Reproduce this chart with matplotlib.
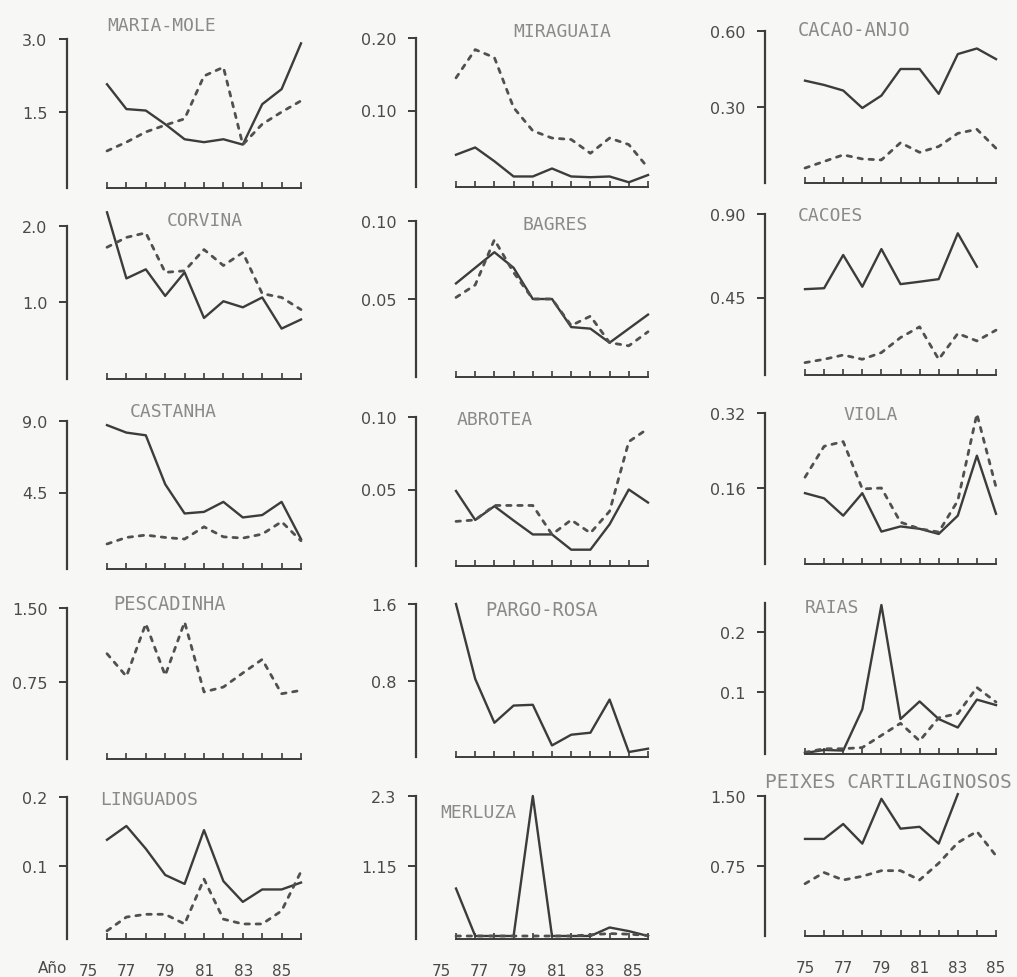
import numpy as np
import matplotlib
matplotlib.use("Agg")
import matplotlib.pyplot as plt
from matplotlib.transforms import ScaledTranslation

nan = np.nan

# ---- data: annual indices 1975-1985, solid and dotted series per species ----
years = [75, 76, 77, 78, 79, 80, 81, 82, 83, 84, 85]
year_labels = ["75", "", "77", "", "79", "", "81", "", "83", "", "85"]

maria_mole_solid = [2.07, 1.56, 1.53, 1.25, 0.94, 0.88, 0.94, 0.83, 1.66, 1.97, 2.91]
maria_mole_dotted = [0.70, 0.88, 1.09, 1.23, 1.36, 2.24, 2.42, 0.83, 1.25, 1.50, 1.73]

miraguaia_solid = [0.039, 0.049, 0.030, 0.009, 0.009, 0.020, 0.009, 0.008, 0.009, 0.001, 0.011]
miraguaia_dotted = [0.145, 0.184, 0.173, 0.104, 0.072, 0.062, 0.060, 0.041, 0.062, 0.053, 0.021]

cacao_anjo_solid = [0.404, 0.387, 0.365, 0.296, 0.345, 0.450, 0.450, 0.352, 0.509, 0.531, 0.489]
cacao_anjo_dotted = [0.059, 0.085, 0.111, 0.095, 0.091, 0.159, 0.121, 0.144, 0.196, 0.212, 0.137]

corvina_solid = [2.18, 1.31, 1.43, 1.08, 1.39, 0.79, 1.01, 0.93, 1.06, 0.65, 0.77]
corvina_dotted = [1.72, 1.85, 1.91, 1.39, 1.41, 1.69, 1.48, 1.65, 1.11, 1.06, 0.90]

bagres_solid = [0.060, 0.070, 0.080, 0.070, 0.050, 0.050, 0.032, 0.031, 0.022, 0.031, 0.040]
bagres_dotted = [0.051, 0.059, 0.088, 0.067, 0.050, 0.050, 0.033, 0.039, 0.022, 0.020, 0.029]

cacoes_solid = [0.495, 0.500, 0.679, 0.508, 0.711, 0.522, 0.535, 0.549, 0.796, 0.616, nan]
cacoes_dotted = [0.099, 0.117, 0.140, 0.117, 0.153, 0.234, 0.292, 0.117, 0.256, 0.216, 0.274]

castanha_solid = [8.74, 8.27, 8.10, 5.02, 3.18, 3.28, 3.91, 2.93, 3.08, 3.91, 1.57]
castanha_dotted = [1.26, 1.67, 1.82, 1.67, 1.57, 2.34, 1.71, 1.63, 1.88, 2.66, 1.46]

abrotea_solid = [0.049, 0.029, 0.0385, 0.0286, 0.019, 0.019, 0.0085, 0.0085, 0.026, 0.050, 0.041]
abrotea_dotted = [0.028, 0.029, 0.039, 0.039, 0.039, 0.019, 0.029, 0.020, 0.035, 0.083, 0.092]

viola_solid = [0.149, 0.138, 0.101, 0.149, 0.067, 0.078, 0.073, 0.062, 0.101, 0.229, 0.105]
viola_dotted = [0.183, 0.249, 0.259, 0.158, 0.160, 0.087, 0.073, 0.066, 0.133, 0.318, 0.162]

pescadinha_solid = [nan] * 11
pescadinha_dotted = [1.037, 0.807, 1.341, 0.817, 1.358, 0.649, 0.699, 0.841, 0.979, 0.631, 0.665]

pargo_rosa_solid = [1.60, 0.817, 0.358, 0.538, 0.546, 0.121, 0.233, 0.254, 0.601, 0.052, 0.087]
pargo_rosa_dotted = [nan] * 11

raias_solid = [0.000, 0.005, 0.004, 0.072, 0.244, 0.056, 0.085, 0.056, 0.042, 0.088, 0.079]
raias_dotted = [0.001, 0.007, 0.007, 0.009, 0.029, 0.049, 0.020, 0.058, 0.065, 0.108, 0.084]

linguados_solid = [0.138, 0.158, 0.125, 0.087, 0.074, 0.152, 0.078, 0.048, 0.066, 0.066, 0.076]
linguados_dotted = [0.006, 0.026, 0.030, 0.030, 0.016, 0.081, 0.023, 0.016, 0.016, 0.035, 0.092]

merluza_solid = [0.78, 0.00, 0.00, 0.00, 2.30, 0.00, 0.00, 0.00, 0.14, 0.08, 0.00]
merluza_dotted = [0.00, 0.00, 0.00, 0.00, 0.00, 0.00, 0.00, 0.02, 0.04, 0.03, 0.01]

cartilaginosos_solid = [1.04, 1.04, 1.20, 0.99, 1.47, 1.15, 1.17, 0.99, 1.52, nan, nan]
cartilaginosos_dotted = [0.56, 0.68, 0.60, 0.64, 0.70, 0.70, 0.60, 0.78, 1.00, 1.12, 0.86]

# ---- figure ----
W, H = 1017, 978
fig = plt.figure(figsize=(W / 100, H / 100), dpi=100, facecolor="#f7f7f5")

LINE = "#3c3c3c"
DOT = "#505050"
TXT = "#4a4a4a"
TITLE = "#8a8a8a"

col_spine = [67, 416, 765]
col_end = [301, 648, 996]

# name, solid, dotted, ticks, tick labels, top value, column, (top px, zero px, bottom px), title (x px, y px, size)
panels = [
    ("MARIA-MOLE", maria_mole_solid, maria_mole_dotted, [1.5, 3.0], ["1.5", "3.0"], 3.0, 0, (40, 186, 189), (107, 26, 13)),
    ("MIRAGUAIA", miraguaia_solid, miraguaia_dotted, [0.10, 0.20], ["0.10", "0.20"], 0.20, 1, (39, 184, 188), (513, 32, 13)),
    ("CACAO-ANJO", cacao_anjo_solid, cacao_anjo_dotted, [0.30, 0.60], ["0.30", "0.60"], 0.60, 2, (32, 184, 184), (798, 31, 13.5)),
    ("CORVINA", corvina_solid, corvina_dotted, [1.0, 2.0], ["1.0", "2.0"], 2.0, 0, (227, 379, 380), (167, 221, 13)),
    ("BAGRES", bagres_solid, bagres_dotted, [0.05, 0.10], ["0.05", "0.10"], 0.10, 1, (222, 378, 378), (523, 225, 13)),
    ("CACOES", cacoes_solid, cacoes_dotted, [0.45, 0.90], ["0.45", "0.90"], 0.90, 2, (215, 382, 376), (798, 216, 13)),
    ("CASTANHA", castanha_solid, castanha_dotted, [4.5, 9.0], ["4.5", "9.0"], 9.0, 0, (422, 565, 570), (130, 412, 13)),
    ("ABROTEA", abrotea_solid, abrotea_dotted, [0.05, 0.10], ["0.05", "0.10"], 0.10, 1, (418, 563, 567), (457, 420, 13)),
    ("VIOLA", viola_solid, viola_dotted, [0.16, 0.32], ["0.16", "0.32"], 0.32, 2, (414, 564, 565), (843, 415, 13)),
    ("PESCADINHA", pescadinha_solid, pescadinha_dotted, [0.75, 1.50], ["0.75", "1.50"], 1.50, 0, (609, 757, 760), (113, 604, 13.5)),
    ("PARGO-ROSA", pargo_rosa_solid, pargo_rosa_dotted, [0.8, 1.6], ["0.8", "1.6"], 1.6, 1, (605, 758, 758), (485, 611, 13.5)),
    ("RAIAS", raias_solid, raias_dotted, [0.1, 0.2], ["0.1", "0.2"], 0.2473, 2, (604, 754, 755), (805, 608, 13)),
    ("LINGUADOS", linguados_solid, linguados_dotted, [0.1, 0.2], ["0.1", "0.2"], 0.2, 0, (798, 936, 940), (100, 800, 13)),
    ("MERLUZA", merluza_solid, merluza_dotted, [1.15, 2.3], ["1.15", "2.3"], 2.3, 1, (797, 937, 940), (440, 813, 13)),
    ("PEIXES CARTILAGINOSOS", cartilaginosos_solid, cartilaginosos_dotted, [0.75, 1.50], ["0.75", "1.50"], 1.50, 2, (797, 937, 937), (765, 783, 14)),
]

label_shift = [-19, -15, 0]

for i, (name, solid, dotted, ticks, tlabels, top, col, (top_px, zero_px, bot_px), (tx, ty, tsize)) in enumerate(panels):
    left = col_spine[col]
    right = col_end[col]
    ax = fig.add_axes([left / W, 1 - bot_px / H, (right - left) / W, (bot_px - top_px) / H])
    ax.patch.set_visible(False)
    scale = (zero_px - top_px) / top
    ybot = -(bot_px - zero_px) / scale
    ax.set_ylim(ybot, top)
    ax.set_xlim(85 - (right - left) / ((col_end[col] - col_spine[col] - 40) / 10), 85)

    ax.plot(years, solid, color=LINE, lw=1.7, solid_joinstyle="round", clip_on=False)
    ax.plot(years, dotted, color=DOT, lw=2.0, linestyle=(0, (1.6, 2.4)),
            dash_capstyle="round", clip_on=False)

    for s in ("top", "right"):
        ax.spines[s].set_visible(False)
    ax.spines["left"].set_color(LINE)
    ax.spines["left"].set_linewidth(1.6)
    ax.spines["left"].set_bounds(ybot, top)
    ax.spines["bottom"].set_color(LINE)
    ax.spines["bottom"].set_linewidth(1.4)
    ax.spines["bottom"].set_bounds(75, 85)

    ax.set_yticks(ticks)
    ax.set_yticklabels(tlabels)
    ax.tick_params(axis="y", direction="out", length=6, width=1.4, color=LINE,
                   pad=8, labelsize=11.5, labelcolor=TXT)
    ax.set_xticks(years)
    bottom_row = i >= 12
    ax.set_xticklabels(year_labels if bottom_row else [""] * 11)
    ax.tick_params(axis="x", direction="in", length=4, width=1.2, color=LINE,
                   pad=17, labelsize=11, labelcolor=TXT)
    if bottom_row:
        shift = ScaledTranslation(label_shift[col] / 100, 0, fig.dpi_scale_trans)
        for lab in ax.get_xticklabels():
            lab.set_transform(lab.get_transform() + shift)
        if col == 0:
            fig.text(38 / W, 1 - 969 / H, "Año", fontsize=11, color=TXT, va="center", ha="left")

    fig.text(tx / W, 1 - ty / H, name, family="DejaVu Sans Mono", fontsize=tsize,
             color=TITLE, va="center", ha="left")

fig.savefig("out.png", dpi=100, facecolor=fig.get_facecolor())
